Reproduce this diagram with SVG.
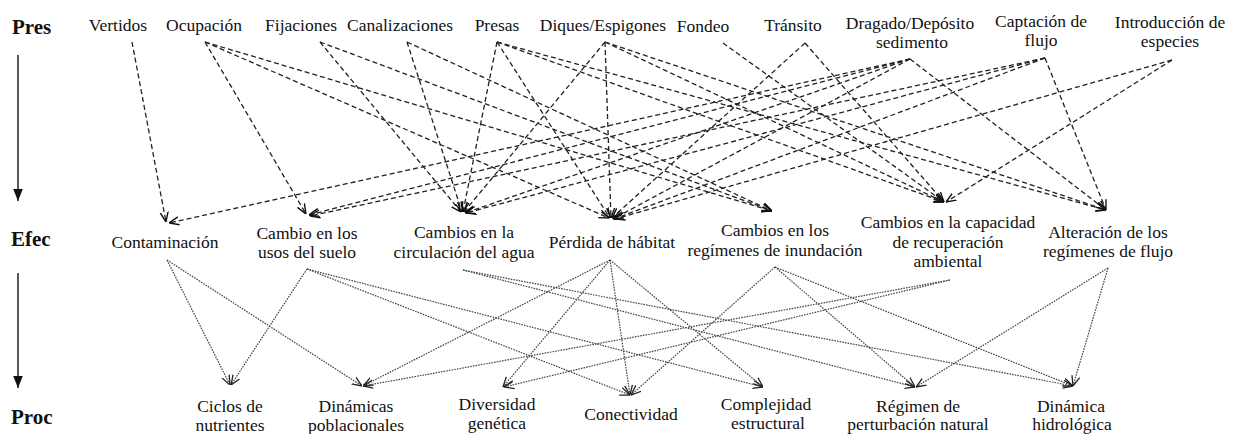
<svg xmlns="http://www.w3.org/2000/svg" width="1239" height="434" viewBox="0 0 1239 434">
<defs>
<style>
.lbl{font-family:"Liberation Serif","DejaVu Serif",serif;font-size:17.5px;fill:#111;text-anchor:middle}
.hd{font-family:"Liberation Serif","DejaVu Serif",serif;font-size:21px;font-weight:bold;fill:#111}
.d{stroke:#222;stroke-width:1.3;stroke-dasharray:5 3;fill:none;marker-end:url(#oa)}
.p{stroke:#444;stroke-width:1.2;stroke-dasharray:1.6 1.1;fill:none;marker-end:url(#ob)}
.ax{stroke:#222;stroke-width:1.5;fill:none;marker-end:url(#fa)}
</style>
<marker id="oa" viewBox="0 0 10 10" refX="10" refY="5" markerWidth="10" markerHeight="10" orient="auto" markerUnits="userSpaceOnUse"><path d="M0,1 L10,5 L0,9" fill="none" stroke="#111" stroke-width="1.4"/></marker>
<marker id="ob" viewBox="0 0 10 10" refX="10" refY="5" markerWidth="10" markerHeight="10" orient="auto" markerUnits="userSpaceOnUse"><path d="M0,1 L10,5 L0,9" fill="none" stroke="#222" stroke-width="1.3"/></marker>
<marker id="fa" viewBox="0 0 10 10" refX="10" refY="5" markerWidth="12" markerHeight="12" orient="auto" markerUnits="userSpaceOnUse"><path d="M0,1 L10,5 L0,9 Z" fill="#111"/></marker>
</defs>
<rect width="1239" height="434" fill="#fff"/>

<g id="axis">
<text class="hd" x="12" y="34">Pres</text>
<text class="hd" x="11" y="246">Efec</text>
<text class="hd" x="11" y="424">Proc</text>
<line class="ax" x1="18" y1="55" x2="18" y2="201"/>
<line class="ax" x1="18" y1="273" x2="18" y2="388"/>
</g>

<g id="connectors">
<g id="pres-efec">
<line class="d" x1="132" y1="42" x2="166" y2="222"/>
<line class="d" x1="910" y1="59" x2="169" y2="223"/>
<line class="d" x1="205" y1="42" x2="306" y2="214"/>
<line class="d" x1="910" y1="59" x2="309" y2="215"/>
<line class="d" x1="1045" y1="58" x2="310" y2="216"/>
<line class="d" x1="320" y1="42" x2="461" y2="212"/>
<line class="d" x1="407" y1="42" x2="462" y2="212"/>
<line class="d" x1="497" y1="42" x2="463" y2="212"/>
<line class="d" x1="605" y1="42" x2="464" y2="212"/>
<line class="d" x1="910" y1="59" x2="465" y2="213"/>
<line class="d" x1="1045" y1="58" x2="466" y2="213"/>
<line class="d" x1="205" y1="42" x2="609" y2="218"/>
<line class="d" x1="497" y1="42" x2="610" y2="218"/>
<line class="d" x1="605" y1="42" x2="611" y2="218"/>
<line class="d" x1="805" y1="43" x2="612" y2="218"/>
<line class="d" x1="910" y1="59" x2="613" y2="219"/>
<line class="d" x1="1045" y1="58" x2="614" y2="219"/>
<line class="d" x1="1172" y1="60" x2="615" y2="219"/>
<line class="d" x1="205" y1="42" x2="772" y2="211"/>
<line class="d" x1="320" y1="42" x2="772" y2="211"/>
<line class="d" x1="407" y1="42" x2="772" y2="211"/>
<line class="d" x1="723" y1="43" x2="944" y2="202"/>
<line class="d" x1="805" y1="43" x2="944" y2="202"/>
<line class="d" x1="605" y1="42" x2="944" y2="202"/>
<line class="d" x1="497" y1="42" x2="944" y2="202"/>
<line class="d" x1="1172" y1="60" x2="946" y2="202"/>
<line class="d" x1="605" y1="42" x2="1106" y2="210"/>
<line class="d" x1="497" y1="42" x2="1106" y2="210"/>
<line class="d" x1="910" y1="59" x2="1106" y2="210"/>
<line class="d" x1="1045" y1="58" x2="1106" y2="210"/>
</g>
<g id="efec-proc">
<line class="p" x1="167" y1="260" x2="230" y2="385"/>
<line class="p" x1="167" y1="260" x2="362" y2="386"/>
<line class="p" x1="307" y1="269" x2="231" y2="385"/>
<line class="p" x1="307" y1="269" x2="630" y2="395"/>
<line class="p" x1="307" y1="269" x2="763" y2="387"/>
<line class="p" x1="463" y1="270" x2="915" y2="387"/>
<line class="p" x1="463" y1="270" x2="1073" y2="386"/>
<line class="p" x1="610" y1="260" x2="363" y2="386"/>
<line class="p" x1="610" y1="260" x2="503" y2="387"/>
<line class="p" x1="610" y1="260" x2="630" y2="395"/>
<line class="p" x1="610" y1="260" x2="763" y2="387"/>
<line class="p" x1="775" y1="267" x2="631" y2="395"/>
<line class="p" x1="775" y1="267" x2="915" y2="387"/>
<line class="p" x1="775" y1="267" x2="1073" y2="386"/>
<line class="p" x1="950" y1="280" x2="363" y2="386"/>
<line class="p" x1="950" y1="280" x2="504" y2="387"/>
<line class="p" x1="1108" y1="268" x2="916" y2="387"/>
<line class="p" x1="1108" y1="268" x2="1073" y2="386"/>
</g>
</g>

<g id="n-vertidos"><text class="lbl" x="118" y="31">Vertidos</text></g>
<g id="n-ocupacion"><text class="lbl" x="204" y="31">Ocupación</text></g>
<g id="n-fijaciones"><text class="lbl" x="301" y="31">Fijaciones</text></g>
<g id="n-canalizaciones"><text class="lbl" x="400" y="31">Canalizaciones</text></g>
<g id="n-presas"><text class="lbl" x="497" y="31">Presas</text></g>
<g id="n-diques"><text class="lbl" x="603" y="31">Diques/Espigones</text></g>
<g id="n-fondeo"><text class="lbl" x="703" y="32">Fondeo</text></g>
<g id="n-transito"><text class="lbl" x="793" y="31">Tránsito</text></g>
<g id="n-dragado"><text class="lbl" x="910" y="29">Dragado/Depósito<tspan x="912" y="48">sedimento</tspan></text></g>
<g id="n-captacion"><text class="lbl" x="1041" y="27">Captación de<tspan x="1041" y="46">flujo</tspan></text></g>
<g id="n-introduccion"><text class="lbl" x="1170" y="28">Introducción de<tspan x="1170" y="47">especies</tspan></text></g>

<g id="n-contaminacion"><text class="lbl" x="165" y="248">Contaminación</text></g>
<g id="n-usos"><text class="lbl" x="307" y="239">Cambio en los<tspan x="307" y="258">usos del suelo</tspan></text></g>
<g id="n-circulacion"><text class="lbl" x="464" y="238">Cambios en la<tspan x="464" y="258">circulación del agua</tspan></text></g>
<g id="n-perdida"><text class="lbl" x="612" y="248">Pérdida de hábitat</text></g>
<g id="n-inundacion"><text class="lbl" x="775" y="236">Cambios en los<tspan x="775" y="256">regímenes de inundación</tspan></text></g>
<g id="n-capacidad"><text class="lbl" x="948" y="228">Cambios en la capacidad<tspan x="948" y="248">de recuperación</tspan><tspan x="948" y="267">ambiental</tspan></text></g>
<g id="n-alteracion"><text class="lbl" x="1108" y="238">Alteración de los<tspan x="1108" y="257">regímenes de flujo</tspan></text></g>

<g id="n-ciclos"><text class="lbl" x="230" y="412">Ciclos de<tspan x="230" y="431">nutrientes</tspan></text></g>
<g id="n-dinpob"><text class="lbl" x="356" y="412">Dinámicas<tspan x="356" y="431">poblacionales</tspan></text></g>
<g id="n-diversidad"><text class="lbl" x="497" y="410">Diversidad<tspan x="497" y="429">genética</tspan></text></g>
<g id="n-conectividad"><text class="lbl" x="631" y="420">Conectividad</text></g>
<g id="n-complejidad"><text class="lbl" x="766" y="410">Complejidad<tspan x="768" y="429">estructural</tspan></text></g>
<g id="n-regimen"><text class="lbl" x="918" y="412">Régimen de<tspan x="918" y="430">perturbación natural</tspan></text></g>
<g id="n-dinhid"><text class="lbl" x="1071" y="412">Dinámica<tspan x="1072" y="430">hidrológica</tspan></text></g>
</svg>
